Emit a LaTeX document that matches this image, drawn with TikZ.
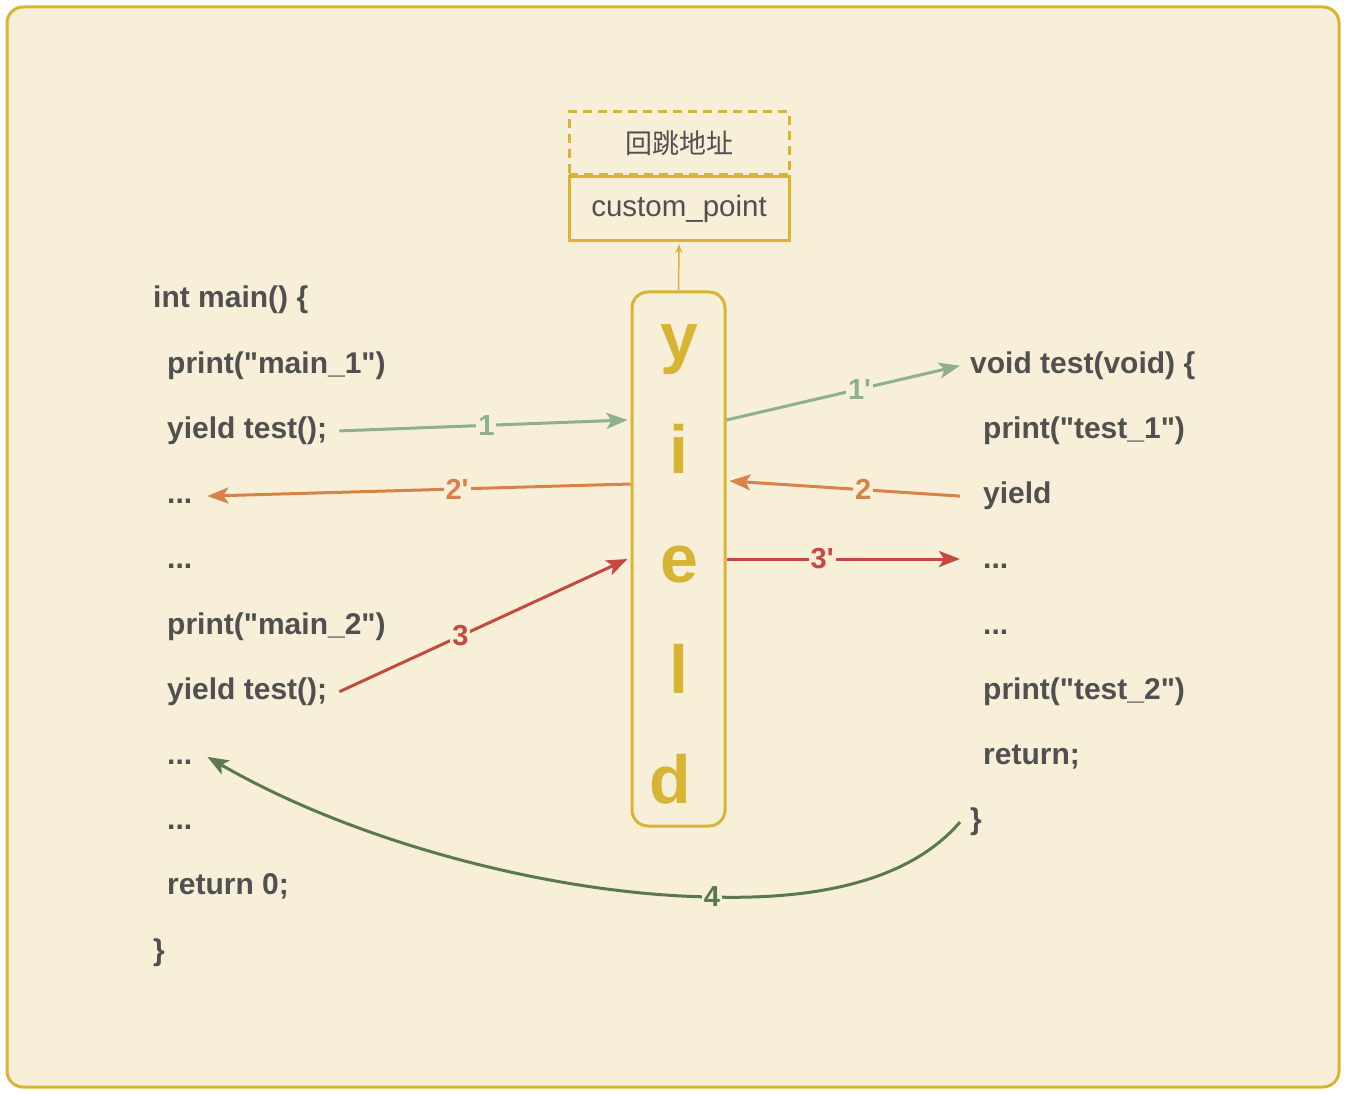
\documentclass[tikz,border=0pt]{standalone}
\usepackage{fontspec}
\setmainfont{Liberation Sans}[Ligatures=TeXOff]
\newfontfamily\cjk{Noto Sans CJK SC}
\usetikzlibrary{arrows.meta,calc}
\definecolor{bg}{HTML}{F7EFD8}
\definecolor{gold}{HTML}{D8B434}
\definecolor{txt}{HTML}{505050}
\definecolor{cA}{HTML}{8FB08E}
\definecolor{cB}{HTML}{D8824A}
\definecolor{cC}{HTML}{C44A3F}
\definecolor{cD}{HTML}{5A7A4E}
\tikzset{
  code/.style={anchor=base west, inner sep=0pt, text=txt, text height=21pt, text depth=6pt,
    font=\fontsize{30}{34}\selectfont\bfseries},
  yl/.style={anchor=base, inner sep=0pt, text=gold, font=\fontsize{68}{72}\selectfont\bfseries},
  conn/.style={line width=3pt, -{Stealth[length=21pt,width=16pt,inset=5pt]}},
  lbl/.style={fill=bg, inner sep=2pt, font=\fontsize{29}{32}\selectfont\bfseries},
  boxstyle/.style={draw=gold, line width=3pt, minimum width=220pt, text=txt}
}
\begin{document}
\begin{tikzpicture}[x=1pt,y=-1pt]
\useasboundingbox (0,0) rectangle (1350,1094);
\draw[draw=gold, fill=bg, line width=3pt, rounded corners=16pt] (7,7) rectangle (1339,1087);

% top boxes
\node[boxstyle, dash pattern=on 9pt off 6pt, minimum height=63pt,
  font=\fontsize{27}{30}\selectfont\cjk] (J) at (679,143.5) {回跳地址};
\node[boxstyle, minimum height=64pt, font=\fontsize{29.5}{33}\selectfont] (C) at (679,209) {custom\_point};

% yield box
\node[draw=gold, line width=3pt, rounded corners=16pt, minimum width=93pt, minimum height=534pt, inner sep=0pt] (Y) at (678.5,559) {};
\node[yl] (Ly) at (679,360) {y};
\node[yl] (Li) at (679,473) {i};
\node[yl] (Le) at (679,582) {e};
\node[yl] (Ll) at (679,693) {l};
\node[yl] (Ld) at (670,803) {d};

\draw[gold, line width=1.5pt, -{Stealth[length=9pt,width=7pt]}, shorten >=1.5pt] (Y.north) -- (C.south);

% left code
\node[code] (m1) at (153,308.0) {int main() \{};
\node[code] (m2) at (167,373.2) {print("main\_1")};
\node[code] (m3) at (167,438.4) {yield test();};
\node[code] (m4) at (167,503.6) {...};
\node[code] (m5) at (167,568.8) {...};
\node[code] (m6) at (167,634.0) {print("main\_2")};
\node[code] (m7) at (167,699.2) {yield test();};
\node[code] (m8) at (167,764.4) {...};
\node[code] (m9) at (167,829.6) {...};
\node[code] (m10) at (167,894.8) {return 0;};
\node[code] (m11) at (153,960.0) {\}};

% right code
\node[code] (t1) at (970,373.2) {void test(void) \{};
\node[code] (t2) at (983,438.4) {print("test\_1")};
\node[code] (t3) at (983,503.6) {yield};
\node[code] (t4) at (983,568.8) {...};
\node[code] (t5) at (983,634.0) {...};
\node[code] (t6) at (983,699.2) {print("test\_2")};
\node[code] (t7) at (983,764.4) {return;};
\node[code] (t8) at (970,829.6) {\}};

% connectors
\draw[conn, cA] ([xshift=12pt]m3.east) -- node[lbl, pos=.51]{1} ([xshift=-3pt,yshift=139pt]Y.west);
\draw[conn, cA] ([yshift=139pt]Y.east) -- node[lbl, pos=.57]{1'} ([xshift=-10pt]t1.west);
\draw[conn, cB] ([xshift=-23pt]t3.west) -- node[lbl, pos=.42]{2} ([xshift=3pt,yshift=78pt]Y.east);
\draw[conn, cB] ([yshift=75pt]Y.west) -- node[lbl, pos=.41]{2'} ([xshift=15pt]m4.east);
\draw[conn, cC] ([xshift=12pt]m7.east) -- node[lbl, pos=.42]{3} ([xshift=-3pt]Y.west);
\draw[conn, cC] (Y.east) -- node[lbl, pos=.41]{3'} ([xshift=-23pt]t4.west |- Y.east);
\draw[conn, cD] ([xshift=-10pt]t8.west) .. controls (910,880) and (820,900) .. (712,897)
  node[lbl]{4} .. controls (560,895) and (360,845) .. ([xshift=15pt]m8.east);
\end{tikzpicture}
\end{document}
